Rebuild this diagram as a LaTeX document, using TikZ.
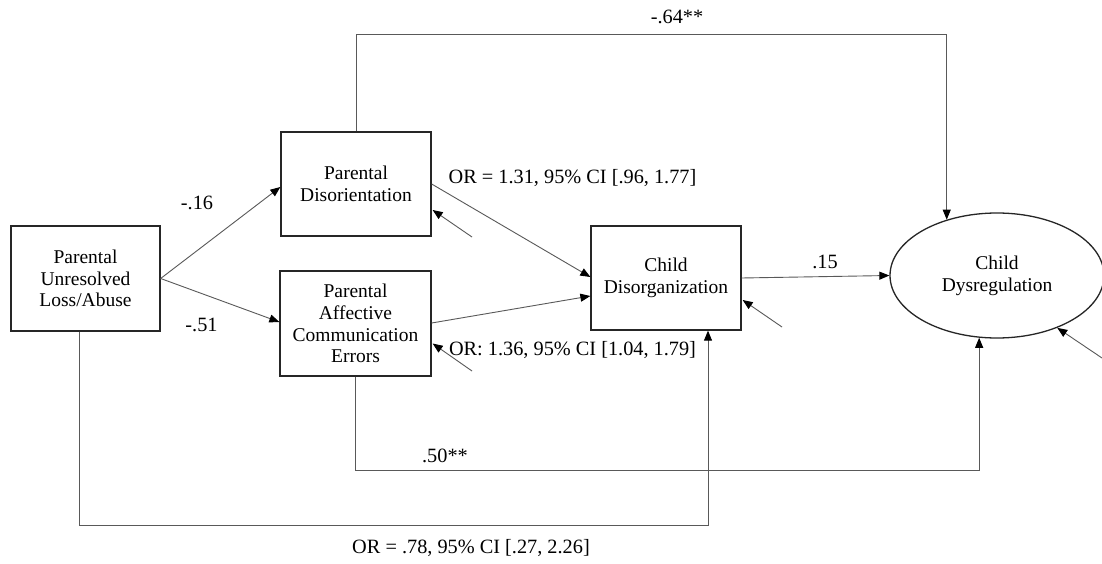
\documentclass[tikz,border=0pt]{standalone}
\usepackage{fontspec}
\setmainfont{Liberation Serif}
\usetikzlibrary{arrows.meta,calc,shapes.geometric}
\begin{document}
\begin{tikzpicture}[x=1pt,y=-1pt,
  boxnode/.style={draw=black!85,line width=1.3pt,rectangle,align=center,inner sep=0pt,
    font=\fontsize{19.5}{21.7}\selectfont},
  ellnode/.style={draw=black!85,line width=1.3pt,ellipse,align=center,inner sep=0pt,
    font=\fontsize{19.5}{21.7}\selectfont},
  arr/.style={draw=black!65,line width=0.9pt,-{Triangle[length=10pt,width=8pt,color=black]}},
  lab/.style={font=\fontsize{20.3}{24}\selectfont,anchor=base,inner sep=0pt}]
\useasboundingbox[fill=white] (0,0) rectangle (1102,564);

\node[boxnode,minimum width=149pt,minimum height=105pt] (unres) at (85.5,278.5) {Parental\\Unresolved\\Loss/Abuse};
\node[boxnode,minimum width=150pt,minimum height=104pt] (disor) at (356,184) {Parental\\Disorientation};
\node[boxnode,minimum width=151pt,minimum height=105pt] (affect) at (355.5,323.5) {Parental\\Affective\\Communication\\Errors};
\node[boxnode,minimum width=150pt,minimum height=104pt] (cdis) at (666,278) {Child\\Disorganization};
\node[ellnode,minimum width=214pt,minimum height=125pt] (dys) at (997,275.5) {Child\\Dysregulation};

% direct paths
\draw[arr] (unres.east) -- ($(disor.west)+(0,3)$);
\draw[arr] (unres.east) -- ($(affect.west)+(0,-1.5)$);
\draw[arr] ($(disor.east)+(0,0)$) -- ($(cdis.west)+(0,-1)$);
\draw[arr] ($(affect.east)+(0,-0.5)$) -- ($(cdis.west)+(0,18)$);
\draw[arr] (cdis.east) -- (dys.west);

% long paths
\coordinate (tc) at (dys.132 |- 0,34);
\draw[arr] (disor.north) |- (tc) -- (dys.132);
\coordinate (bc) at (dys.254.6 |- 0,470);
\draw[arr] (affect.south) |- (bc) -- (dys.254.6);
\coordinate (us) at ($(unres.south)+(-6.5,0)$);
\coordinate (cb) at ($(cdis.south)+(42,0)$);
\coordinate (lc) at (cb |- 0,525);
\draw[arr] (us) |- (lc) -- (cb);

% residual arrows
\coordinate (r1) at (472,237);
\coordinate (r2) at (472,371);
\coordinate (r3) at (782,327);
\coordinate (r4) at (1102,358);
\draw[arr] (r1) -- ($(disor.east)+(1,26)$);
\draw[arr] (r2) -- ($(affect.east)+(1,20)$);
\draw[arr] (r3) -- ($(cdis.east)+(1,22)$);
\draw[arr] (r4) -- (dys.-41);

% labels
\node[lab] (l1) at (197,209) {-.16};
\node[lab] (l2) at (201.5,331) {-.51};
\node[lab] (l3) at (572.5,183) {OR = 1.31, 95\% CI [.96, 1.77]};
\node[lab] (l4) at (572.5,355) {OR: 1.36, 95\% CI [1.04, 1.79]};
\node[lab] (l5) at (677,24) {-.64**};
\node[lab] (l6) at (825,268) {.15};
\node[lab] (l7) at (445,462) {.50**};
\node[lab] (l8) at (471,553) {OR = .78, 95\% CI [.27, 2.26]};
\end{tikzpicture}
\end{document}
